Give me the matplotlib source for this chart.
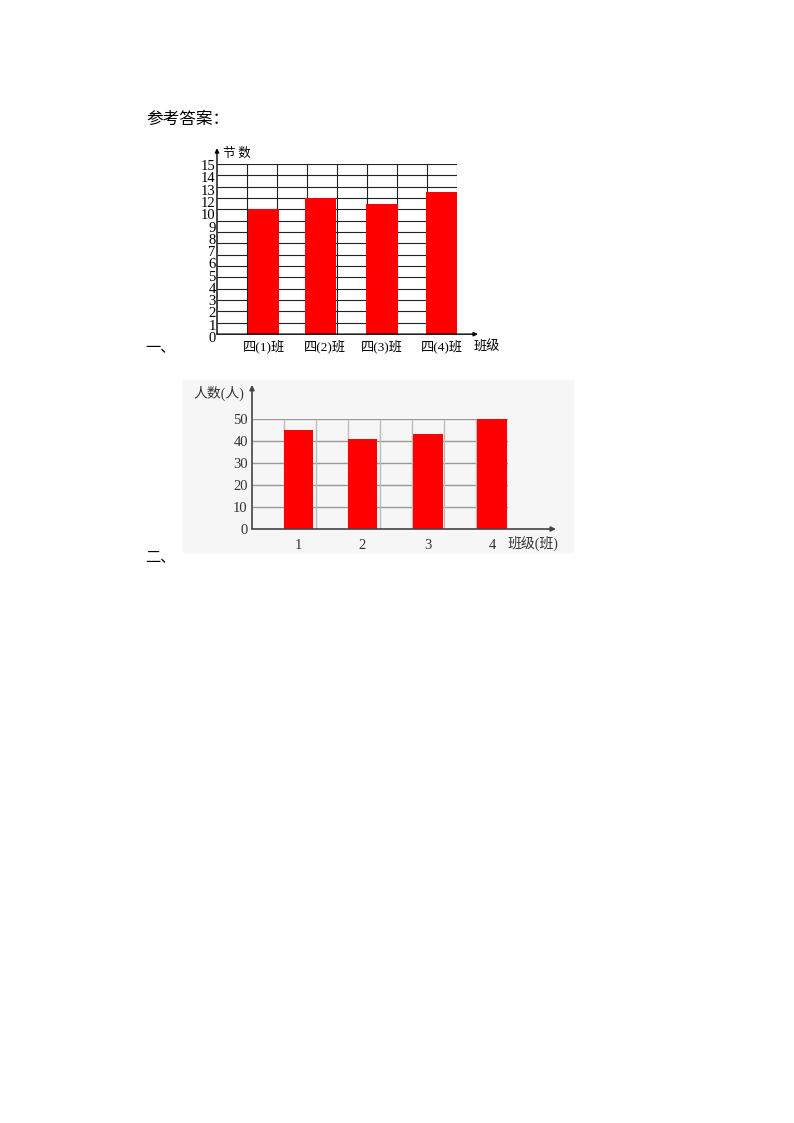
import matplotlib
matplotlib.use("Agg")
import matplotlib.pyplot as plt
from matplotlib.patches import Rectangle
import numpy as np

# chart 1 data
classes1 = ['四(1)班', '四(2)班', '四(3)班', '四(4)班']
lessons = [11, 12, 11.5, 12.5]
ylabels1 = ['0', '1', '2', '3', '4', '5', '6', '7', '8', '9', '10', '12', '13', '14', '15']

# chart 2 data
classes2 = ['1', '2', '3', '4']
people = [45, 41, 43, 50]
yticks2 = [0, 10, 20, 30, 40, 50]

W, H = 794, 1123
MIX = ['Liberation Serif', 'Noto Sans CJK SC']
CJK = ['Noto Sans CJK SC', 'DejaVu Sans']

fig = plt.figure(figsize=(W / 100, H / 100), dpi=100)


def box(left, top, right, bottom):
    return [left / W, 1 - bottom / H, (right - left) / W, (bottom - top) / H]


def ftext(x, y, s, **kw):
    fig.text(x / W, 1 - y / H, s, **kw)


ftext(146, 119, '参考答案：', family=CJK, fontsize=12, va='center', ha='left')

# ---------- chart 1 ----------
ax1 = fig.add_axes(box(217, 164, 457, 337))
ax1.set_xlim(0, 8)
ax1.set_ylim(0, 15)
for s in ax1.spines.values():
    s.set_visible(False)
ax1.hlines(np.arange(1, 16), 0, 8, color='#222222', lw=0.8, zorder=1)
ax1.vlines(np.arange(1, 9), 0, 15, color='#222222', lw=0.8, zorder=1)
ax1.bar([1.55, 3.45, 5.5, 7.5], lessons, width=1.05, color='#ff0000', zorder=2)
ax1.annotate('', xy=(0, 16.4), xytext=(0, 0), annotation_clip=False,
             arrowprops=dict(arrowstyle='-|>', color='black', lw=1, mutation_scale=6, shrinkA=0, shrinkB=0))
ax1.annotate('', xy=(8.7, 0), xytext=(0, 0), annotation_clip=False,
             arrowprops=dict(arrowstyle='-|>', color='black', lw=1, mutation_scale=6, shrinkA=0, shrinkB=0))
# labels are squeezed over the axis (the "11" is missing in the original)
ax1.set_yticks(np.linspace(-0.25, 14.9, len(ylabels1)), ylabels1, family=MIX, fontsize=10.5)
ax1.set_xticks([1.55, 3.6, 5.5, 7.5], classes1, family=MIX, fontsize=9.5)
ax1.tick_params(length=0, pad=1)
ax1.tick_params(axis='x', pad=2)
ftext(223, 153, '节 数', family=CJK, fontsize=9, va='center', ha='left')
ftext(474, 347, '班级', family=CJK, fontsize=9.5, va='center', ha='left')
ftext(145, 348, '一、', family=CJK, fontsize=11, va='center', ha='left')

# ---------- chart 2 ----------
fig.patches.append(Rectangle((183 / W, 1 - 552 / H), (573 - 183) / W, (552 - 380) / H,
                             transform=fig.transFigure, color='#f6f6f6', zorder=-1))
ax2 = fig.add_axes(box(252, 419, 508, 529))
ax2.set_xlim(0, 8)
ax2.set_ylim(0, 50)
ax2.patch.set_visible(False)
for s in ax2.spines.values():
    s.set_visible(False)
ax2.hlines(yticks2[1:], 0, 8, color='#999999', lw=1, zorder=1)
ax2.vlines(np.arange(1, 9), 0, 50, color='#bbbbbb', lw=1, zorder=1)
ax2.bar([1.45, 3.45, 5.5, 7.5], people, width=0.92, color='#ff0000', zorder=2)
ax2.annotate('', xy=(0, 65.5), xytext=(0, 0), annotation_clip=False,
             arrowprops=dict(arrowstyle='-|>', color='#444444', lw=1.2, mutation_scale=7, shrinkA=0, shrinkB=0))
ax2.annotate('', xy=(9.5, 0), xytext=(0, 0), annotation_clip=False,
             arrowprops=dict(arrowstyle='-|>', color='#444444', lw=1.2, mutation_scale=7, shrinkA=0, shrinkB=0))
ax2.set_yticks(yticks2, [str(v) for v in yticks2], family=MIX, fontsize=10.5, color='#333333')
ax2.set_xticks([1.45, 3.45, 5.5, 7.5], classes2, family=MIX, fontsize=10.5, color='#333333')
ax2.tick_params(length=0, pad=3)
ax2.tick_params(axis='x', pad=7)
ftext(193, 393, '人数(人)', family=MIX, fontsize=10, va='center', ha='left', color='#333333')
ftext(508, 543, '班级(班)', family=MIX, fontsize=10, va='center', ha='left', color='#333333')
ftext(145, 557, '二、', family=CJK, fontsize=11, va='center', ha='left')

fig.savefig('out.png', dpi=100)
